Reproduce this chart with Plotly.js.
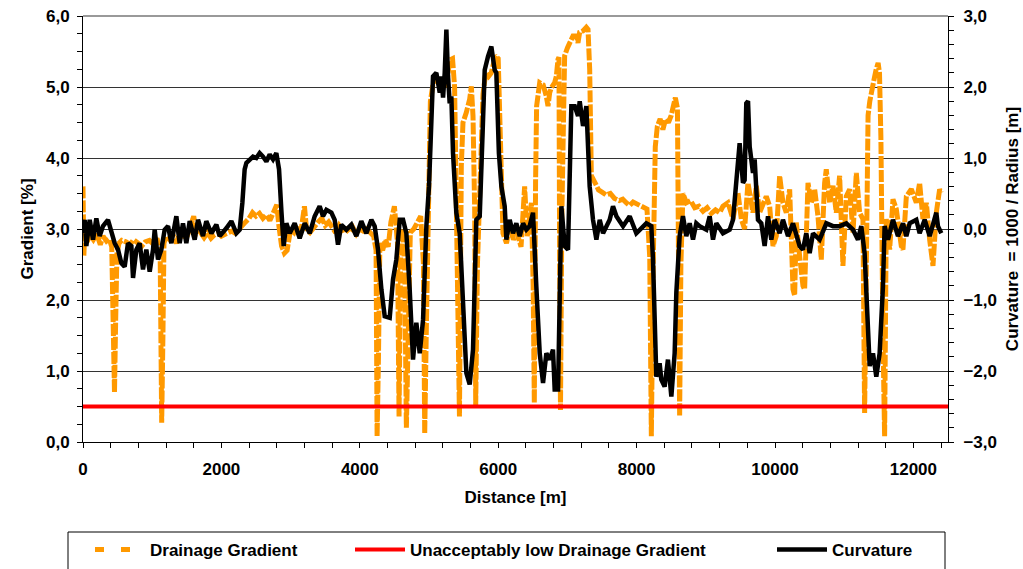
<!DOCTYPE html>
<html><head><meta charset="utf-8">
<script src="https://cdn.plot.ly/plotly-3.0.1.min.js"></script>
<style>html,body{margin:0;padding:0;background:#fff;}#chart{width:1023px;height:569px;}</style>
</head><body><div id="chart"></div>
<script>
// ---- Drainage gradient [%] vs distance [m] ----
const gradDistance = [0,12,25,60,100,150,200,250,290,340,380,415,435,455,470,490,520,560,620,680,730,800,850,900,960,1020,1070,1115,1137,1155,1170,1200,1250,1300,1350,1400,1450,1500,1550,1600,1640,1700,1750,1800,1850,1900,1960,2000,2060,2100,2150,2200,2250,2300,2350,2400,2450,2500,2550,2600,2650,2700,2750,2800,2830,2870,2910,2950,3000,3050,3100,3150,3200,3230,3280,3350,3400,3450,3500,3550,3600,3650,3700,3750,3800,3850,3900,3950,4000,4050,4100,4150,4200,4235,4250,4270,4290,4330,4370,4410,4450,4500,4545,4567,4590,4620,4650,4673,4700,4730,4780,4830,4880,4920,4938,4960,4990,5020,5060,5100,5150,5200,5250,5300,5340,5370,5400,5440,5467,5491,5539,5588,5612,5636,5660,5675,5700,5740,5780,5820,5860,5900,5960,6000,6030,6069,6120,6170,6220,6270,6330,6382,6420,6480,6505,6522,6540,6555,6600,6650,6695,6720,6744,6768,6816,6840,6864,6878,6888,6900,6920,6960,7000,7050,7081,7130,7153,7177,7225,7273,7298,7322,7346,7400,7450,7500,7560,7620,7680,7750,7800,7850,7900,7950,8000,8050,8100,8150,8190,8213,8240,8270,8300,8340,8380,8420,8460,8500,8560,8590,8610,8622,8640,8670,8720,8780,8840,8900,8960,9020,9080,9140,9200,9248,9320,9393,9465,9513,9561,9609,9682,9730,9778,9874,9923,9971,10019,10067,10115,10163,10212,10260,10284,10308,10356,10404,10428,10477,10525,10573,10621,10669,10717,10741,10790,10838,10886,10934,10982,11030,11079,11127,11175,11223,11271,11295,11320,11345,11370,11400,11430,11460,11490,11510,11530,11560,11584,11608,11657,11705,11753,11825,11849,11898,11970,12042,12090,12138,12187,12235,12283,12331,12379,12403];
const drainageGradient = [3.60,2.62,2.95,2.82,2.92,2.85,2.93,2.78,2.90,2.83,2.86,2.75,1.80,0.70,1.60,2.65,2.80,2.84,2.82,2.78,2.85,2.80,2.76,2.82,2.84,2.78,2.87,2.65,0.27,1.50,2.80,2.90,2.85,2.92,2.80,2.97,2.90,2.88,3.05,3.18,2.93,2.95,2.88,2.95,2.87,2.92,2.94,2.90,2.93,2.95,2.97,2.94,3.00,3.05,3.10,3.15,3.23,3.18,3.22,3.15,3.20,3.12,3.25,3.34,3.05,2.76,2.66,2.70,3.00,2.95,3.05,2.97,3.32,3.00,2.95,3.05,3.10,3.15,3.05,3.10,3.02,2.95,3.05,2.98,3.00,2.95,3.02,2.93,3.00,2.97,3.00,2.95,2.90,2.70,0.08,1.20,2.80,2.70,2.85,2.75,3.10,3.32,2.80,0.36,2.60,3.00,2.40,0.20,2.00,2.95,3.00,3.10,3.18,2.50,0.12,1.50,3.50,4.80,5.05,5.15,5.05,5.10,5.00,5.38,5.40,5.00,3.00,0.36,3.89,4.50,4.64,4.83,5.01,4.59,3.28,0.52,2.50,4.00,4.90,5.20,5.15,5.20,5.44,5.40,4.50,2.94,2.80,3.05,2.85,2.95,2.75,3.60,2.90,3.37,2.20,0.55,3.65,4.73,5.06,5.03,4.87,4.73,4.92,4.99,5.06,5.15,5.39,5.42,2.50,0.45,3.20,5.44,5.55,5.67,5.72,5.72,5.62,5.77,5.79,5.84,5.81,5.25,3.75,3.65,3.55,3.52,3.48,3.50,3.43,3.40,3.42,3.37,3.33,3.38,3.35,3.32,3.30,3.28,2.60,0.08,2.50,4.16,4.45,4.55,4.40,4.55,4.50,4.60,4.85,4.70,2.00,0.36,2.50,3.50,3.37,3.40,3.30,3.32,3.25,3.30,3.22,3.27,3.23,3.32,3.37,3.14,3.51,3.14,3.00,3.65,3.23,3.61,3.23,3.46,3.32,2.76,2.90,3.75,3.37,3.23,3.56,2.15,2.06,3.09,2.62,2.20,2.15,3.65,3.37,3.56,3.18,2.57,3.65,3.84,3.37,3.61,3.23,3.75,2.48,3.46,3.56,2.95,3.79,3.23,3.14,0.41,2.50,4.60,4.80,5.00,5.10,5.24,5.34,5.20,4.30,1.50,0.08,3.14,2.71,3.42,3.28,2.76,2.71,3.46,3.56,3.37,3.65,3.14,3.37,2.85,2.48,3.23,3.56,3.51];

// ---- Curvature = 1000 / Radius vs distance [m] ----
const curvDistance = [10,24,48,97,145,193,241,289,361,410,458,506,554,602,650,699,723,771,819,867,915,964,1012,1036,1084,1132,1180,1229,1277,1349,1397,1445,1493,1542,1614,1662,1734,1782,1855,1927,1975,2071,2144,2216,2264,2303,2336,2361,2409,2457,2505,2553,2601,2650,2698,2746,2794,2833,2866,2900,2939,2987,3059,3131,3204,3276,3348,3420,3468,3517,3589,3637,3685,3733,3806,3878,3950,4022,4095,4167,4215,4263,4312,4360,4432,4480,4528,4577,4625,4673,4721,4769,4817,4866,4914,4962,5000,5034,5058,5106,5155,5179,5203,5227,5251,5275,5299,5323,5347,5395,5444,5492,5540,5588,5636,5684,5733,5781,5805,5853,5901,5949,5973,6010,6046,6094,6118,6166,6214,6262,6311,6359,6407,6455,6503,6551,6600,6648,6696,6744,6792,6816,6865,6913,6961,7009,7033,7057,7106,7154,7178,7226,7274,7322,7370,7419,7467,7515,7611,7659,7708,7804,7900,7996,8140,8213,8237,8261,8285,8333,8357,8405,8453,8502,8550,8574,8622,8670,8718,8767,8815,8863,8911,9007,9056,9104,9152,9248,9345,9393,9441,9489,9537,9561,9585,9610,9634,9682,9706,9754,9802,9850,9899,9947,9995,10067,10115,10188,10260,10356,10404,10452,10501,10549,10645,10742,10838,10934,11031,11127,11199,11247,11295,11344,11368,11416,11464,11512,11560,11584,11633,11705,11777,11850,11898,11946,12042,12090,12163,12235,12283,12331,12355,12403];
const curvature = [-0.06,0.13,-0.24,0.13,-0.15,0.15,-0.10,0.04,0.13,-0.06,-0.20,-0.29,-0.48,-0.53,-0.20,-0.24,-0.69,-0.29,-0.20,-0.57,-0.29,-0.60,-0.29,-0.01,-0.43,-0.29,-0.01,0.04,-0.20,0.18,-0.20,0.08,-0.20,0.11,-0.15,0.13,-0.10,0.11,-0.06,0.06,-0.10,0.01,0.11,-0.06,-0.01,0.37,0.84,0.93,0.98,1.02,1.00,1.07,1.02,0.95,1.05,0.98,1.07,0.84,0.27,-0.24,0.08,-0.06,0.08,-0.13,0.08,-0.06,0.18,0.32,0.18,0.27,0.23,0.13,-0.22,0.06,-0.01,0.06,-0.10,0.11,-0.06,0.13,0.04,-0.29,-0.85,-1.23,-1.25,-0.71,-0.43,0.13,0.13,-0.06,-0.85,-1.84,-1.32,-1.75,-1.28,0.04,0.60,1.54,2.15,2.20,1.92,2.15,1.85,2.20,2.81,2.15,1.77,1.87,1.07,0.23,-0.06,-1.04,-2.03,-2.19,-1.70,0.13,0.18,1.54,2.24,2.43,2.57,2.24,2.20,1.07,0.60,0.32,-0.15,0.13,-0.06,0.08,-0.10,0.08,-0.01,0.04,0.23,-0.81,-1.75,-2.17,-1.75,-1.84,-1.70,-2.26,-2.26,0.32,-0.24,-0.29,1.07,1.73,1.73,1.59,1.80,1.45,1.73,0.60,0.13,-0.15,0.13,-0.06,0.13,0.32,0.18,0.04,0.18,-0.06,0.08,0.04,-0.43,-1.28,-2.08,-1.89,-2.12,-2.22,-1.84,-2.36,-1.75,-0.90,-0.10,0.18,-0.10,0.08,-0.15,0.08,0.04,-0.01,0.18,-0.15,0.08,-0.06,-0.01,0.13,0.74,1.21,0.65,0.69,1.77,1.80,1.16,0.79,0.98,0.13,0.08,-0.24,0.18,-0.15,0.13,-0.06,0.13,-0.10,0.08,-0.24,-0.29,-0.06,-0.34,-0.06,-0.15,0.08,0.04,0.04,0.08,-0.01,-0.15,0.04,-0.34,-1.28,-1.93,-1.75,-2.08,-1.75,-0.81,0.04,-0.15,0.13,-0.10,0.08,-0.10,0.08,0.13,-0.06,0.13,-0.10,0.04,0.23,0.04,-0.06];

// ---- Threshold ----
const lowLimitDistance = [0, 12500];
const lowLimitGradient = [0.5, 0.5];

// ---- Axis settings ----
const xRange = [0, 12500];
const gradRange = [0, 6];
const curvRange = [-3, 3];

const seriesNames = ['Drainage Gradient', 'Unacceptably low Drainage Gradient', 'Curvature'];
const FONT = 'Liberation Sans, Arial, Helvetica, sans-serif';
const bold = (size) => ({family: FONT, size: size, color: '#000', weight: 'bold'});

const traces = [
  {x: gradDistance, y: drainageGradient, type: 'scatter', mode: 'lines', name: seriesNames[0],
   showlegend: false, line: {color: '#FF9900', width: 5, dash: '12px,2px'}, hoverinfo: 'skip'},
  {x: [null], y: [null], type: 'scatter', mode: 'lines', name: seriesNames[0], legend: 'legend',
   line: {color: '#FF9900', width: 5, dash: '9px,17px'}},
  {x: lowLimitDistance, y: lowLimitGradient, type: 'scatter', mode: 'lines', name: seriesNames[1], legend: 'legend2',
   line: {color: '#FF0000', width: 4}},
  {x: curvDistance, y: curvature, type: 'scatter', mode: 'lines', name: seriesNames[2], legend: 'legend3', yaxis: 'y2',
   line: {color: '#000000', width: 4.5}}
];

const W = 1023, H = 569, L = 83, R = 948, T = 16, B = 442;
const px2x = p => (p - L) / (R - L);
const py2y = p => (B - p) / (B - T);

const legendBase = {orientation: 'h', xref: 'container', yref: 'container', xanchor: 'left', yanchor: 'middle',
  y: 1 - 550 / H, font: bold(17), bgcolor: 'rgba(0,0,0,0)', borderwidth: 0, itemwidth: 50};

const layout = {
  width: W, height: H,
  margin: {l: L, r: W - R, t: T, b: H - B, pad: 0, autoexpand: false},
  paper_bgcolor: '#fff', plot_bgcolor: '#fff',
  separators: ',.',
  showlegend: true,
  xaxis: {range: xRange, dtick: 2000, tick0: 0, tickformat: 'd', ticks: 'outside', ticklen: 5, tickcolor: '#000',
    minor: {dtick: 400, ticks: 'outside', ticklen: 5, tickcolor: '#000', showgrid: false},
    showline: true, linecolor: '#000', linewidth: 1, showgrid: false, zeroline: false, ticklabelstandoff: 7,
    tickfont: bold(17), title: {text: 'Distance [m]', font: bold(17), standoff: 12}, automargin: false},
  yaxis: {range: gradRange, dtick: 1, tick0: 0, tickformat: '.1f', ticks: 'outside', ticklen: 5, tickcolor: '#000',
    minor: {dtick: 0.25, ticks: 'outside', ticklen: 5, tickcolor: '#000', showgrid: false},
    showline: true, linecolor: '#000', linewidth: 1, showgrid: true, gridcolor: '#333', gridwidth: 1, zeroline: false,
    ticklabelstandoff: 4,
    tickfont: bold(17), title: {text: 'Gradient [%]', font: bold(17), standoff: 8}, automargin: false},
  yaxis2: {range: curvRange, dtick: 1, tick0: 0, tickformat: '.1f', overlaying: 'y', side: 'right',
    ticks: 'outside', ticklen: 5, tickcolor: '#000',
    minor: {dtick: 0.2, ticks: 'outside', ticklen: 5, tickcolor: '#000', showgrid: false},
    showline: true, linecolor: '#000', linewidth: 1, showgrid: false, zeroline: false, ticklabelstandoff: 6,
    tickfont: bold(17), title: {text: 'Curvature  = 1000 / Radius [m]', font: bold(17), standoff: 10}, automargin: false},
  legend: Object.assign({}, legendBase, {x: 90 / W}),
  legend2: Object.assign({}, legendBase, {x: 350 / W}),
  legend3: Object.assign({}, legendBase, {x: 772 / W}),
  shapes: [
    {type: 'line', xref: 'paper', yref: 'paper', x0: 0, x1: 1, y0: 1, y1: 1, line: {color: '#999', width: 2}},
    {type: 'rect', xref: 'paper', yref: 'paper', x0: px2x(68), x1: px2x(945), y0: py2y(532), y1: py2y(575),
     line: {color: '#000', width: 1}, fillcolor: 'rgba(0,0,0,0)'}
  ]
};

Plotly.newPlot('chart', traces, layout, {staticPlot: true, displayModeBar: false});
</script>
</body></html>
